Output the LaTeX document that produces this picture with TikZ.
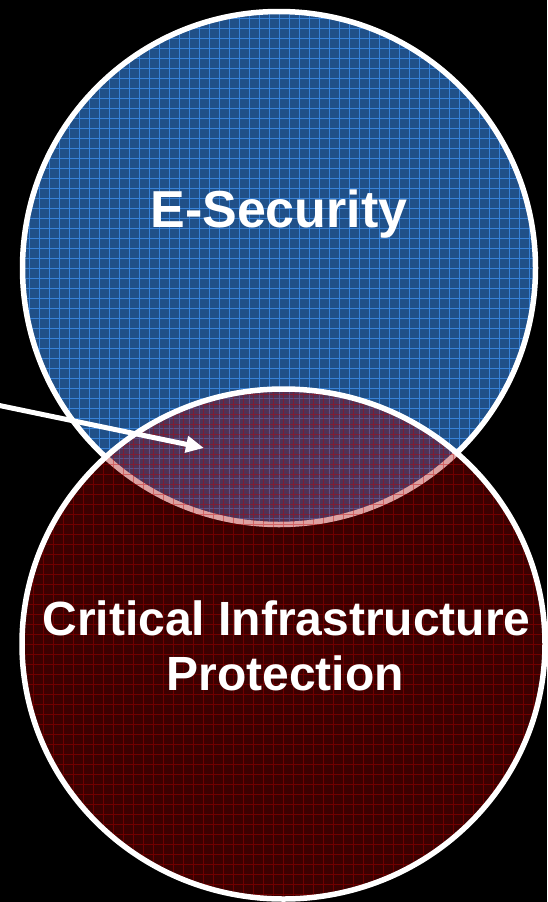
\documentclass[tikz,border=0pt]{standalone}
\usepackage{fontspec}
\setmainfont{Liberation Sans}
\usetikzlibrary{shapes.geometric,arrows.meta}
\definecolor{bluefill}{RGB}{32,80,136}
\definecolor{blueline}{RGB}{56,130,215}
\definecolor{redfill}{RGB}{162,0,0}
\definecolor{redline}{RGB}{200,0,0}
\tikzset{
  outline/.style={draw=white, line width=5.5pt, inner sep=0pt, outer sep=0pt},
  bluegrid/.style={draw=blueline, line width=0.6pt},
  redgrid/.style={draw=redline, line width=0.6pt, draw opacity=0.38},
  label/.style={text=white, font=\bfseries, inner sep=0pt},
  pointer/.style={draw=white, line width=5pt, -{Triangle[length=18pt,width=16pt]}}
}
\begin{document}
\begin{tikzpicture}[x=1pt,y=-1pt]
\fill[black] (0,0) rectangle (547,902);
\useasboundingbox (0,0) rectangle (547,902);
% blue circle
\node[circle, outline, fill=bluefill, minimum size=513pt,
  path picture={\draw[bluegrid] ([xshift=-2pt,yshift=-2pt]path picture bounding box.south west) grid[step=10pt] (path picture bounding box.north east);}]
  (esec) at (279,268) {};
% red ellipse
\node[ellipse, outline, fill=redfill, fill opacity=0.37, draw opacity=1,
  minimum width=523pt, minimum height=510pt,
  path picture={\draw[redgrid] ([xshift=-3pt,yshift=-3pt]path picture bounding box.south west) grid[step=10pt] (path picture bounding box.north east);}]
  (cip) at (283.5,644) {};
% texts
\node[label, anchor=base, font=\fontsize{52}{62}\selectfont\bfseries] (t1) at (279,227) {E-Security};
\node[label, anchor=base, font=\fontsize{48}{56}\selectfont\bfseries] (t2) at (286.5,635) {Critical Infrastructure};
\node[label, anchor=base, font=\fontsize{48}{56}\selectfont\bfseries] (t3) at (285,690) {Protection};
% arrow
\coordinate (src) at (-3,405);
\coordinate (tip) at (204,448);
\draw[pointer] (src) -- (tip);
\end{tikzpicture}
\end{document}
